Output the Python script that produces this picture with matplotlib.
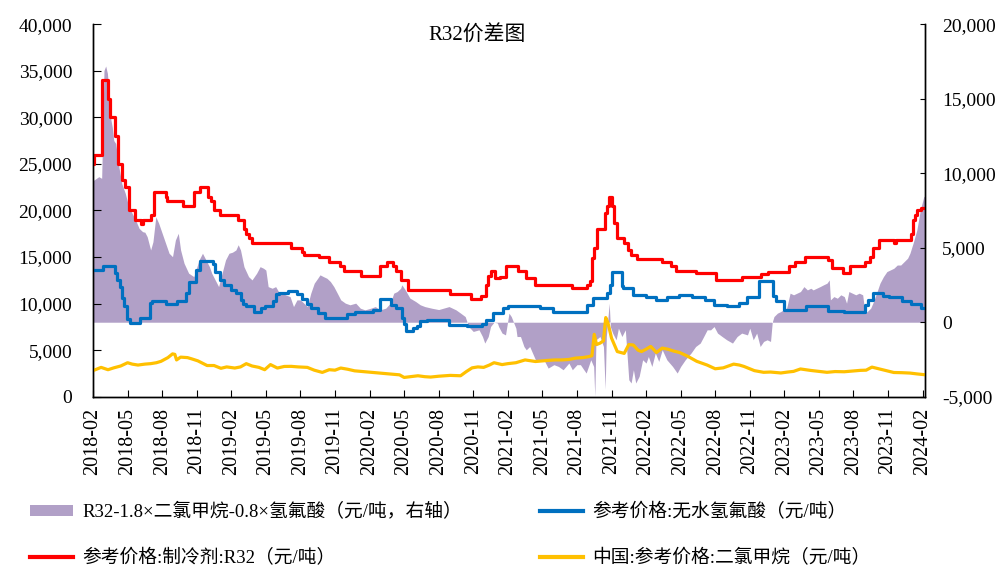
import matplotlib
matplotlib.use("Agg")
import matplotlib.pyplot as plt
from matplotlib.patches import Patch
from matplotlib.lines import Line2D
from matplotlib.ticker import FuncFormatter

plt.rcParams['font.family'] = ['Liberation Serif', 'Noto Sans CJK SC']

# x positions are months counted from 2018-02
tick_labels = ['2018-02', '2018-05', '2018-08', '2018-11', '2019-02', '2019-05', '2019-08',
               '2019-11', '2020-02', '2020-05', '2020-08', '2020-11', '2021-02', '2021-05',
               '2021-08', '2021-11', '2022-02', '2022-05', '2022-08', '2022-11', '2023-02',
               '2023-05', '2023-08', '2023-11', '2024-02']

# 参考价格:制冷剂:R32 (step series, value holds until next point)
r32_t = [0, 0.1, 0.8, 1.3, 1.45, 1.9, 2.15, 2.5, 2.8, 3.15, 3.6, 4.15, 4.3, 5.05, 5.3, 6.3,
         6.45, 7.85, 8.8, 9.3, 10.0, 10.2, 10.5, 11.0, 12.6, 13.1, 13.3, 13.55, 13.8, 17.2,
         18.1, 18.3, 19.6, 20.5, 21.4, 21.8, 23.3, 24.9, 25.5, 26.0, 26.3, 26.7, 27.3, 31.0,
         32.8, 33.7, 34.1, 34.3, 34.5, 34.9, 35.3, 35.8, 36.9, 37.6, 38.4, 41.6, 42.9, 43.1,
         43.3, 43.5, 43.7, 44.4, 44.6, 44.75, 45.0, 45.2, 45.5, 46.1, 46.4, 46.7, 47.2, 49.4,
         50.2, 50.6, 52.3, 54.1, 56.3, 58.0, 58.6, 60.4, 60.9, 61.8, 63.8, 64.1, 65.1, 65.7,
         67.0, 67.4, 67.7, 68.2, 69.5, 69.7, 71.0, 71.15, 71.3, 71.5, 71.85, 72.25]
r32_v = [25000, 26000, 34000, 32000, 30000, 28000, 25000, 23300, 22500, 20000, 19000, 18500,
         19000, 19500, 22000, 21500, 21000, 20500, 22000, 22500, 21500, 21000, 20000, 19500,
         19000, 18000, 17500, 17000, 16500, 16000, 15500, 15200, 15000, 14500, 14000, 13500,
         13000, 14000, 14500, 14000, 13500, 12500, 11500, 11000, 10500, 10800, 12000, 13000,
         13500, 12700, 12900, 14000, 13500, 12700, 12000, 11700, 12000, 12400, 14900, 16000,
         18000, 19700, 20500, 21500, 20500, 18700, 17000, 16500, 15800, 15200, 14800, 14500,
         14000, 13500, 13250, 12550, 12900, 13150, 13400, 14000, 14500, 15000, 14700, 13800,
         13300, 14000, 14500, 15000, 16000, 16800, 16500, 16800, 17500, 19000, 19500, 20000,
         20300, 20300]

# 参考价格:无水氢氟酸 (step series)
hf_t = [0, 0.9, 1.9, 2.1, 2.3, 2.5, 2.7, 2.95, 3.2, 4.1, 4.95, 5.1, 6.3, 7.3, 8.1, 8.3, 8.9,
        9.3, 10.4, 10.6, 11.0, 11.4, 12.0, 12.4, 12.8, 13.0, 13.3, 14.0, 14.6, 14.9, 15.6,
        15.9, 16.1, 16.9, 17.7, 18.1, 18.6, 18.9, 19.5, 20.1, 22.0, 22.7, 24.3, 24.9, 25.9,
        26.3, 26.8, 27.0, 27.2, 27.8, 28.1, 28.4, 29.0, 30.9, 32.5, 33.8, 34.1, 34.7, 35.6,
        36.0, 38.8, 39.9, 42.9, 43.4, 44.6, 44.9, 45.0, 45.9, 46.0, 46.9, 48.0, 48.9, 49.8,
        50.9, 52.0, 53.1, 53.9, 55.0, 56.1, 56.8, 57.8, 59.0, 59.3, 60.0, 61.9, 63.8, 65.2,
        67.0, 67.3, 67.7, 68.6, 69.1, 70.2, 71.0, 71.9, 72.25]
hf_v = [13600, 14000, 13300, 12500, 11800, 10600, 9700, 8300, 7900, 8500, 10100, 10300, 10000,
        10300, 11100, 12300, 13600, 14600, 14300, 13400, 12500, 12000, 11500, 11100, 10400,
        10000, 9700, 9100, 9500, 9700, 10300, 11000, 11100, 11400, 11000, 10500, 10000, 9500,
        9000, 8450, 8850, 9050, 9350, 10500, 9800, 9500, 8500, 7800, 7100, 7350, 7600, 8100,
        8250, 7650, 7550, 7800, 8250, 8950, 9500, 9700, 9500, 9150, 9850, 10600, 11100, 12000,
        13350, 11850, 11650, 10950, 10700, 10350, 10700, 10950, 10700, 10350, 9850, 9700,
        10100, 10750, 12450, 10800, 10250, 9350, 9700, 9250, 9100, 9850, 10400, 11100, 10800,
        10700, 10250, 10000, 9500, 9500]

# 中国:参考价格:二氯甲烷
dcm_t = [0, 0.7, 1.3, 1.8, 2.4, 3.0, 3.4, 3.9, 4.5, 5.0, 5.5, 5.9, 6.5, 6.9, 7.1, 7.25, 7.6,
         8.2, 8.6, 9.1, 9.5, 9.9, 10.5, 11.1, 11.6, 12.3, 12.8, 13.3, 13.8, 14.4, 14.9, 15.4,
         16.0, 16.6, 17.2, 17.8, 18.6, 19.2, 19.9, 20.5, 21.0, 21.5, 22.1, 22.7, 23.4, 24.1,
         24.8, 25.5, 26.2, 26.6, 27.0, 27.5, 28.2, 28.8, 29.3, 30.0, 31.0, 31.9, 32.4, 32.9,
         33.4, 33.9, 34.4, 34.8, 35.5, 36.0, 36.7, 37.5, 38.0, 38.4, 39.0, 39.5, 40.1, 40.7,
         41.3, 41.9, 42.5, 43.0, 43.3, 43.5, 43.7, 44.0, 44.3, 44.5, 44.7, 45.0, 45.5, 46.1,
         46.5, 46.9, 47.3, 47.6, 48.0, 48.4, 48.9, 49.4, 49.9, 50.4, 50.9, 51.6, 52.4, 53.3,
         54.0, 54.7, 55.6, 56.1, 56.5, 57.0, 57.4, 58.2, 58.8, 59.7, 60.3, 60.8, 61.4, 62.3,
         63.0, 63.7, 64.4, 65.2, 65.9, 66.6, 67.1, 67.6, 68.3, 68.9, 69.5, 70.2, 70.9, 71.5,
         72.2]
dcm_v = [2800, 3150, 2900, 3100, 3300, 3650, 3500, 3400, 3500, 3550, 3650, 3800, 4200, 4600,
         4550, 3950, 4250, 4200, 4050, 3850, 3600, 3350, 3350, 3050, 3200, 3080, 3200, 3550,
         3300, 3150, 2900, 3450, 3080, 3250, 3260, 3200, 3150, 2850, 2610, 2900, 2850, 3080,
         2950, 2780, 2700, 2610, 2550, 2470, 2400, 2350, 2070, 2150, 2250, 2150, 2110, 2200,
         2290, 2250, 2700, 3100, 3200, 3150, 3400, 3650, 3450, 3550, 3650, 3950, 3850, 3780,
         3850, 3900, 3950, 3950, 4000, 4150, 4200, 4300, 4400, 6700, 5600, 5750, 6000, 8500,
         7900, 6300, 4850, 4650, 5600, 5550, 5000, 4850, 5100, 5400, 4750, 5220, 5100, 4900,
         4750, 4350, 3800, 3400, 3000, 3100, 3500, 3400, 3250, 3000, 2800, 2620, 2650, 2550,
         2650, 2720, 2980, 2820, 2720, 2620, 2700, 2680, 2750, 2830, 2850, 3180, 2970, 2800,
         2600, 2580, 2540, 2450, 2360]

# R32-1.8×二氯甲烷-0.8×氢氟酸 (right axis)
spread_t = [0, 0.5, 0.75, 0.85, 0.95, 1.1, 1.25, 1.4, 1.55, 1.67, 1.8, 1.97, 2.25, 2.5, 2.8,
            3.1, 3.4, 3.7, 4.0, 4.3, 4.5, 4.7, 5.0, 5.2, 5.45, 5.7, 6.0, 6.3, 6.6, 6.9, 7.15,
            7.4, 7.6, 7.9, 8.3, 8.75, 9.2, 9.5, 9.8, 10.1, 10.3, 10.6, 10.9, 11.2, 11.5, 11.8,
            12.1, 12.4, 12.6, 12.8, 13.1, 13.5, 13.8, 14.2, 14.5, 14.8, 15.0, 15.2, 15.55,
            15.85, 16.1, 16.7, 17.1, 17.4, 17.7, 18.0, 18.3, 18.6, 18.9, 19.2, 19.5, 19.7,
            20.0, 20.3, 20.6, 20.9, 21.2, 21.5, 21.9, 22.3, 22.8, 23.2, 23.6, 24.1, 24.5, 24.9,
            25.4, 25.8, 26.1, 26.4, 26.7, 26.8, 27.1, 27.5, 28.0, 28.4, 28.8, 29.4, 30.0, 30.9,
            31.5, 31.9, 32.3, 32.6, 33.0, 33.5, 33.8, 34.0, 34.3, 34.5, 34.8, 35.1, 35.2, 35.5,
            35.8, 36.1, 36.3, 36.7, 36.8, 37.1, 37.4, 37.6, 37.9, 38.4, 38.8, 39.2, 39.5, 40.0,
            40.4, 40.8, 41.3, 41.6, 42.0, 42.3, 42.6, 42.8, 43.2, 43.45, 43.55, 43.65, 44.0,
            44.3, 44.45, 44.55, 44.8, 44.9, 45.1, 45.4, 45.6, 45.9, 46.2, 46.5, 46.7, 46.9,
            47.1, 47.4, 47.7, 48.0, 48.2, 48.5, 48.8, 49.1, 49.4, 49.8, 50.3, 50.7, 51.0, 51.4,
            51.9, 52.3, 52.7, 53.0, 53.3, 53.6, 53.9, 54.2, 54.6, 55.0, 55.5, 55.9, 56.3, 56.8,
            57.0, 57.3, 57.6, 57.9, 58.2, 58.5, 58.8, 58.95, 59.1, 59.4, 59.7, 59.9, 60.2, 60.5,
            60.8, 61.1, 61.4, 61.7, 62.0, 62.3, 62.5, 62.8, 63.1, 63.4, 63.7, 63.9, 64.0, 64.3,
            64.6, 64.9, 65.2, 65.4, 65.6, 65.9, 66.2, 66.5, 66.8, 67.0, 67.2, 67.5, 67.8, 68.1,
            68.3, 68.6, 68.9, 69.2, 69.5, 69.8, 70.1, 70.4, 70.7, 70.9, 71.2, 71.5, 71.8, 72.1,
            72.25]
spread_v = [9500, 9770, 9660, 13100, 16900, 17200, 16700, 15300, 13600, 13100, 12200, 12000,
            10400, 9300, 8650, 7750, 7300, 6850, 6300, 6080, 6040, 5740, 4850, 5400, 7080, 6640,
            5970, 5300, 4630, 4400, 5520, 5970, 4850, 3960, 3290, 3060, 4180, 4630, 4180, 3730,
            3290, 2840, 2390, 3290, 4180, 4630, 4700, 4850, 5200, 4850, 3730, 3060, 2840, 3290,
            3730, 3620, 3500, 2390, 2280, 2390, 2060, 1840, 1720, 1050, 1500, 1500, 1280, 1050,
            1950, 2620, 2950, 3180, 3060, 2950, 2730, 2390, 1950, 1500, 1280, 1170, 1280, 940,
            830, 940, 1050, 830, 940, 1280, 1950, 2060, 2280, 2510, 2170, 1620, 1390, 1170, 1050,
            940, 850, 1050, 830, 610, 380, -290, -620, -510, -960, -1400, -960, -290, 0, -50,
            -290, -730, -850, 610, 380, -400, -960, -960, -1630, -1850, -1630, -2520, -2520,
            -2630, -3080, -2850, -2970, -3190, -2740, -3190, -2850, -2850, -3190, -3410, -2520,
            -2970, -4980, -1180, -960, -1630, -4500, -960, 1280, -300, -730, -1180, -400, -960,
            -510, -3860, -4080, -3190, -4080, -3630, -2520, -2740, -2300, -2970, -2070, -2630,
            -1850, -2520, -2970, -3410, -2970, -2520, -2070, -1630, -1400, -960, -510, -510,
            -290, -730, -960, -1180, -1400, -960, -730, -850, -400, -1180, -730, -1630, -1290,
            -1180, -1290, 0, 380, 610, 720, 830, 950, 1950, 1840, 1950, 2060, 2390, 2170, 2280,
            2170, 2280, 2390, 2510, 2620, 2840, 1500, 1720, 1610, 1840, 1720, 1280, 2060, 1950,
            1840, 1950, 1840, 610, 720, 950, 1500, 2170, 2620, 3060, 3400, 3510, 3620, 3840,
            3840, 4070, 4300, 4630, 5370, 6190, 7530, 8420, 8500]

purple = '#b1a0c7'
red = '#ff0000'
blue = '#0070c0'
yellow = '#ffc000'

fig = plt.figure(figsize=(9.96, 5.66), dpi=100)
ax2 = fig.add_axes([0.0934, 0.2991, 0.8358, 0.658])
ax = ax2.twinx()
ax.set_zorder(ax2.get_zorder() + 1)
ax.patch.set_visible(False)

# the right axis (spread) lives on ax2, lines on ax
ax2.fill_between(spread_t, 0, spread_v, color=purple, linewidth=0)
ax2.set_ylim(-5000, 20000)
ax2.yaxis.tick_right()
ax2.yaxis.set_label_position('right')

ax.plot(r32_t, r32_v, color=red, lw=2.3, drawstyle='steps-post')
ax.plot(hf_t, hf_v, color=blue, lw=2.3, drawstyle='steps-post')
ax.plot(dcm_t, dcm_v, color=yellow, lw=2.3)
ax.set_ylim(0, 40000)
ax.yaxis.tick_left()

ax.set_xlim(0, 72.25)
ax2.set_xlim(0, 72.25)

fmt = FuncFormatter(lambda v, p: f"{v:,.0f}")
ax.yaxis.set_major_formatter(fmt)
ax2.yaxis.set_major_formatter(fmt)
ax.set_yticks(range(0, 40001, 5000))
ax2.set_yticks(range(-5000, 20001, 5000))

ax2.set_xticks(range(0, 73, 3))
ax2.set_xticklabels(tick_labels, rotation=90)

for a in (ax, ax2):
    a.spines['top'].set_visible(False)
    for s in ('left', 'right', 'bottom'):
        a.spines[s].set_linewidth(1.0)
        a.spines[s].set_color('black')
ax.tick_params(axis='y', direction='in', length=5.5, labelsize=14, pad=15, left=True,
               right=False, labelleft=True, labelright=False)
ax.tick_params(axis='x', bottom=False, labelbottom=False)
ax2.tick_params(axis='y', direction='in', length=3.5, labelsize=14, pad=12, left=False,
                right=True, labelleft=False, labelright=True)
ax2.tick_params(axis='x', direction='in', length=5, labelsize=14.5, pad=8)

fig.text(0.479, 0.938, 'R32价差图', ha='center', va='center', fontsize=15)

# legend, two columns placed separately
left_handles = [Patch(facecolor=purple, edgecolor='none'),
                Line2D([], [], color=red, lw=3)]
left_labels = ['R32-1.8×二氯甲烷-0.8×氢氟酸（元/吨，右轴）', '参考价格:制冷剂:R32（元/吨）']
right_handles = [Line2D([], [], color=blue, lw=3),
                 Line2D([], [], color=yellow, lw=3)]
right_labels = ['参考价格:无水氢氟酸（元/吨）', '中国:参考价格:二氯甲烷（元/吨）']

leg_kw = dict(loc='upper left', frameon=False, fontsize=13.5, handlelength=2.3,
              handleheight=0.5, handletextpad=0.5, labelspacing=1.47, borderpad=0,
              borderaxespad=0)
fig.legend(left_handles, left_labels, bbox_to_anchor=(0.03, 0.111), **leg_kw)
fig.legend(right_handles, right_labels, bbox_to_anchor=(0.542, 0.111), **leg_kw)

fig.savefig('out.png', dpi=100)
